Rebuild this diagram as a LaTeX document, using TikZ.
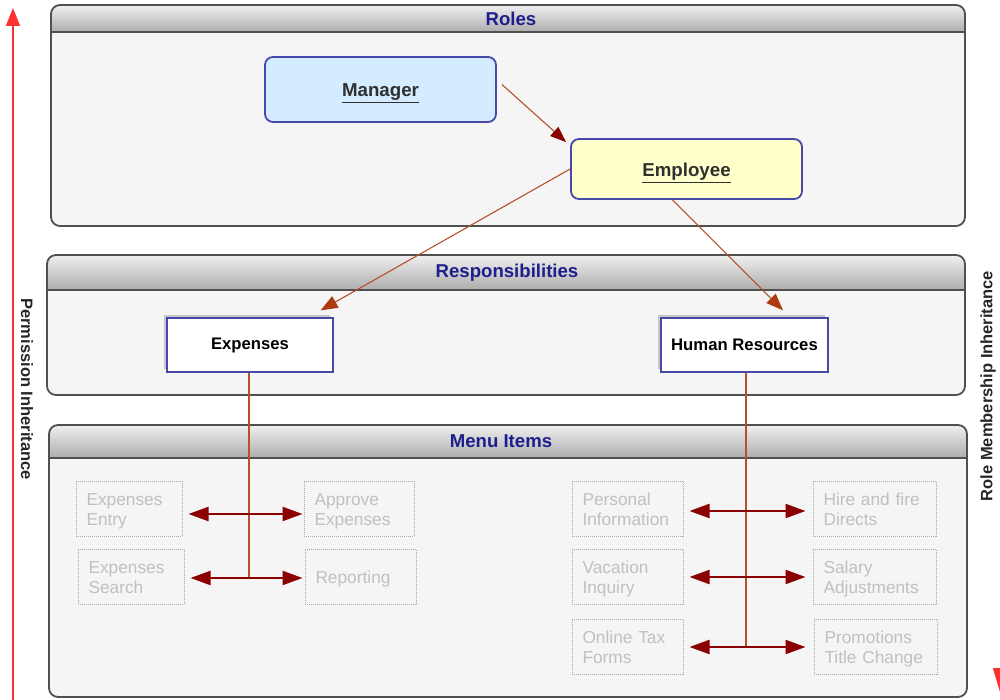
\documentclass[tikz,border=0pt]{standalone}
\usepackage{fontspec}
\setmainfont{Liberation Sans}
\usetikzlibrary{arrows.meta,calc,shadows}
\definecolor{navy}{HTML}{1E1E8C}
\definecolor{panelfill}{HTML}{F5F5F5}
\definecolor{panelborder}{HTML}{505050}
\definecolor{hdrtop}{HTML}{ACACAC}
\definecolor{hdrbot}{HTML}{F0F0F0}
\definecolor{nodeblue}{HTML}{4848A8}
\definecolor{mgrfill}{HTML}{D4ECFF}
\definecolor{empfill}{HTML}{FFFFCC}
\definecolor{sienna}{HTML}{B4502A}
\definecolor{headred}{HTML}{B03A10}
\definecolor{darkred}{HTML}{8B0000}
\definecolor{itemgray}{HTML}{C0C0C0}
\definecolor{itemborder}{HTML}{A8A8A8}
\definecolor{redline}{HTML}{FF3030}
\definecolor{textdark}{HTML}{303030}

\newcommand\mypanel[8]{%
  \begin{scope}
    \clip[rounded corners=9] (#1,#2) rectangle (#3,#4);
    \fill[panelfill] (#1,#2) rectangle (#3,#4);
    \shade[top color=hdrbot,bottom color=hdrtop] (#1,#2) rectangle (#3,#5);
  \end{scope}
  \draw[panelborder,line width=1.6] (#1,#5) -- (#3,#5);
  \draw[panelborder,line width=1.8,rounded corners=9] (#1,#2) rectangle (#3,#4);
  \node[paneltitle] (#7) at (#8,{(#2+#5)/2}) {#6};
}

\begin{document}
\begin{tikzpicture}[x=1pt,y=-1pt,
  paneltitle/.style={font=\bfseries\fontsize{18.6}{21}\selectfont,text=navy,inner sep=0pt},
  rolebox/.style={draw=nodeblue,line width=1.8,rounded corners=8,text=textdark,
    text height=15pt,text depth=0pt,
    font=\bfseries\fontsize{18.7}{22}\selectfont},
  respbox/.style={draw=nodeblue,line width=1.3,fill=white,text=black,
    minimum width=166,minimum height=54,inner sep=0pt,
    font=\bfseries\fontsize{16.7}{20}\selectfont,
    drop shadow={shadow xshift=-3pt,shadow yshift=3pt,fill=black!22,opacity=1}},
  menuitem/.style={draw=itemborder,densely dotted,line width=1,text=itemgray,
    minimum height=55,inner xsep=10.5pt,inner ysep=0pt,align=left,
    text height=18pt,text depth=23.6pt,
    font=\fontsize{17.3}{20}\selectfont},
  oneline/.style={text depth=3.6pt},
  rolearrow/.style={draw=sienna,line width=1.1,-{Triangle[length=16pt,width=12pt,fill=darkred,color=darkred]}},
  resparrow/.style={draw=sienna,line width=1.1,-{Triangle[length=17pt,width=13pt,fill=headred,color=headred]}},
  trunk/.style={draw=sienna,line width=1.3},
  dbl/.style={draw=darkred,line width=2.2,
    {Triangle[length=20pt,width=14pt]}-{Triangle[length=20pt,width=14pt]}},
  sidelabel/.style={font=\bfseries\fontsize{16.5}{19}\selectfont,text=black!85,inner sep=0pt},
  sidearrow/.style={draw=redline,line width=1.4,-{Triangle[length=18pt,width=14pt]}}
]
\useasboundingbox (0,0) rectangle (1000,700);
\clip (0,0) rectangle (1000,700);

% panels
\mypanel{51}{5}{965}{226}{32}{Roles}{rolestitle}{511}
\mypanel{47}{255}{965}{395}{290}{Responsibilities}{resptitle}{507}
\mypanel{49}{425}{967}{697}{458}{Menu Items}{menutitle}{501}

% side arrows and labels
\coordinate (lb) at (13,700);
\coordinate (lt) at (13,8);
\draw[sidearrow] (lb) -- (lt);
\coordinate (rt) at (1003,300);
\coordinate (rb) at (1003,702);
\draw[sidearrow,-{Triangle[length=34pt,width=20pt]}] (rt) -- (rb);
\node[sidelabel,rotate=-90] (perm) at (27,389) {Permission Inheritance};
\node[sidelabel,rotate=90] (memb) at (988,386) {Role Membership Inheritance};

% roles
\node[rolebox,fill=mgrfill,minimum width=231,minimum height=65] (mgr) at (380.5,89.5) {\underline{Manager}};
\node[rolebox,fill=empfill,minimum width=231,minimum height=60] (emp) at (686.5,169) {\underline{Employee}};

% responsibilities
\node[respbox] (exp) at (250,345) {Expenses};
\node[respbox,minimum width=167] (hr) at (744.5,345) {Human Resources};

% menu items
\node[menuitem,minimum width=106,text width=85pt] (ee) at (129,508.5) {Expenses\\Entry};
\node[menuitem,minimum width=106,text width=85pt] (es) at (131,576.5) {Expenses\\Search};
\node[menuitem,minimum width=110,text width=89pt] (ae) at (359,508.5) {Approve\\Expenses};
\node[menuitem,oneline,minimum width=111,text width=90pt] (rp) at (360.5,576.5) {Reporting};
\node[menuitem,minimum width=111,text width=90pt] (pi) at (627.5,508.5) {Personal\\Information};
\node[menuitem,minimum width=111,text width=90pt] (vi) at (627.5,576.5) {Vacation\\Inquiry};
\node[menuitem,minimum width=111,text width=90pt] (ot) at (627.5,646.5) {Online Tax\\Forms};
\node[menuitem,minimum width=123,text width=102pt] (hf) at (874.5,508.5) {Hire and fire\\Directs};
\node[menuitem,minimum width=123,text width=102pt] (sa) at (874.5,576.5) {Salary\\Adjustments};
\node[menuitem,minimum width=123,text width=102pt] (pt) at (875.5,646.5) {Promotions\\Title Change};

% role arrows
\draw[rolearrow] ([xshift=5,yshift=5]mgr.east) -- ([xshift=-4,yshift=-4]emp.north west);
\draw[resparrow] (emp.west) -- ([xshift=-13,yshift=7]exp.north east);
\draw[resparrow] ([xshift=-14]emp.south) -- ([xshift=38.5,yshift=7]hr.north);

% trunks
\coordinate (expj) at ($(exp.south)+(-1,206)$);
\coordinate (hrj) at ($(hr.south)+(1.5,275)$);
\draw[trunk] ([xshift=-1]exp.south) -- (expj);
\draw[trunk] ([xshift=1.5]hr.south) -- (hrj);

% double arrows
\draw[dbl,shorten <=6,shorten >=1] ([yshift=-5.5]ee.east) -- ([yshift=-5.5]ae.west);
\draw[dbl,shorten <=6,shorten >=2] ([yshift=-1.5]es.east) -- ([yshift=-1.5]rp.west);
\draw[dbl,shorten <=6,shorten >=7] ([yshift=-2.5]pi.east) -- ([yshift=-2.5]hf.west);
\draw[dbl,shorten <=6,shorten >=7] ([yshift=-0.5]vi.east) -- ([yshift=-0.5]sa.west);
\draw[dbl,shorten <=6,shorten >=8] ([yshift=-0.5]ot.east) -- ([yshift=-0.5]pt.west);
\end{tikzpicture}
\end{document}
